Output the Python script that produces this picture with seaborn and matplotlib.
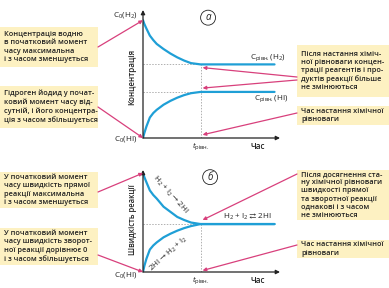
import matplotlib
matplotlib.use("Agg")
import matplotlib.pyplot as plt
import seaborn as sns
import pandas as pd
from matplotlib.patches import Rectangle

# ---------------- data ----------------
t = [0, 0.1, 0.25, 0.5, 0.75, 1.0, 1.5, 2.0, 2.5, 3.0, 3.5, 4.2, 9.6]
c_h2 = [9.2, 8.9, 8.55, 8.0, 7.65, 7.35, 6.95, 6.6, 6.3, 6.05, 5.85, 5.75, 5.75]
c_hi = [0, 0.4, 0.9, 1.6, 1.95, 2.2, 2.6, 2.9, 3.15, 3.35, 3.5, 3.6, 3.6]
v_forward = [9.7, 9.3, 8.8, 8.0, 7.55, 7.2, 6.4, 5.9, 5.4, 5.1, 4.85, 4.7, 4.7]
v_reverse = [0, 0.6, 1.3, 2.2, 2.6, 2.9, 3.4, 3.75, 4.05, 4.3, 4.5, 4.7, 4.7]
t_eq = 4.2

box_texts_left = [
    "Концентрація водню\nв початковий момент\nчасу максимальна\nі з часом зменшується",
    "Гідроген йодид у почат-\nковий момент часу від-\nсутній, і його концентра-\nція з часом збільшується",
    "У початковий момент\nчасу швидкість прямої\nреакції максимальна\nі з часом зменшується",
    "У початковий момент\nчасу швидкість зворот-\nної реакції дорівнює 0\nі з часом збільшується",
]
box_texts_right = [
    "Після настання хіміч-\nної рівноваги концен-\nтрації реагентів і про-\nдуктів реакції більше\nне змінюються",
    "Час настання хімічної\nрівноваги",
    "Після досягнення ста-\nну хімічної рівноваги\nшвидкості прямої\nта зворотної реакції\nоднакові і з часом\nне змінюються",
    "Час настання хімічної\nрівноваги",
]

# ---------------- style ----------------
sns.set_style("white")
plt.rcParams["font.family"] = ["Open Sans", "DejaVu Sans"]
plt.rcParams["mathtext.fontset"] = "custom"
plt.rcParams["mathtext.rm"] = "Open Sans"
plt.rcParams["mathtext.it"] = "Open Sans:italic"
plt.rcParams["mathtext.bf"] = "Open Sans:bold"
plt.rcParams["mathtext.fallback"] = "stixsans"

BLUE = "#1f9fd6"
PINK = "#d8407c"
YELLOW = "#fdf1c2"
DARK = "#222222"
GRID = "#b0b0b0"
FS = 5.3
WT = "semibold"

W, H = 389, 288
fig = plt.figure(figsize=(W / 100, H / 100), dpi=100)
fig.patch.set_facecolor("white")

# overlay in pixel coordinates (y downward) for the explanatory boxes
ov = fig.add_axes([0, 0, 1, 1], zorder=0)
ov.set_xlim(0, W)
ov.set_ylim(H, 0)
ov.axis("off")

def fpx(x, y):
    return (x, H - y)

def box(x0, y0, x1, y1, text):
    ov.add_patch(Rectangle((x0, y0), x1 - x0, y1 - y0, facecolor=YELLOW, edgecolor="none"))
    ov.text(x0 + 4, (y0 + y1) / 2, text, ha="left", va="center", fontsize=FS,
            color=DARK, linespacing=1.22, fontweight=WT)

left_boxes = [(0, 27, 98, 67), (0, 86, 98, 128), (0, 172, 98, 208), (0, 228, 98, 265)]
right_boxes = [(297, 45, 389, 97), (297, 106, 389, 125), (297, 170, 389, 220), (297, 240, 389, 258)]
for b, s in zip(left_boxes, box_texts_left):
    box(*b, s)
for b, s in zip(right_boxes, box_texts_right):
    box(*b, s)

# ---------------- panels ----------------
def make_axes(top_px, bottom_px):
    left = 143 / W
    width = 137 / W
    bottom = 1 - bottom_px / H
    height = (bottom_px - top_px) / H
    ax = fig.add_axes([left, bottom, width, height], zorder=2)
    ax.set_facecolor("none")
    for s in ax.spines.values():
        s.set_visible(False)
    return ax

ax1 = make_axes(10, 138)
ax2 = make_axes(170, 272)

df1 = pd.DataFrame({"t": t * 2, "c": c_h2 + c_hi,
                    "series": ["H2"] * len(t) + ["HI"] * len(t)})
df2 = pd.DataFrame({"t": t * 2, "v": v_forward + v_reverse,
                    "series": ["fwd"] * len(t) + ["rev"] * len(t)})

sns.lineplot(data=df1, x="t", y="c", units="series", estimator=None, color=BLUE,
             lw=1.6, ax=ax1, legend=False)
sns.lineplot(data=df2, x="t", y="v", units="series", estimator=None, color=BLUE,
             lw=1.6, ax=ax2, legend=False)

for ax in (ax1, ax2):
    ax.set_xlim(0, 10)
    ax.set_ylim(0, 10)
    ax.set_yticks([])
    ax.set_xticks([t_eq])
    ax.set_xticklabels([r"$t_{\mathrm{рівн.}}$"], fontsize=FS + 0.6, color=DARK)
    ax.tick_params(axis="x", length=0, pad=2)
    ax.set_xlabel("")
    ax.set_ylabel("")
    arrow = dict(arrowstyle="-|>", color=DARK, lw=0.9, shrinkA=0, shrinkB=0, mutation_scale=6)
    ax.annotate("", xy=(1, 0), xytext=(0, 0), xycoords="axes fraction", arrowprops=arrow)
    ax.annotate("", xy=(0, 1), xytext=(0, 0), xycoords="axes fraction", arrowprops=arrow)

dot = dict(color=GRID, lw=0.7, ls=(0, (1.5, 1.5)), zorder=0)
# top panel guides
ax1.plot([0, t_eq], [c_h2[-1]] * 2, **dot)
ax1.plot([0, t_eq], [c_hi[-1]] * 2, **dot)
ax1.plot([t_eq, t_eq], [0, c_h2[-1]], **dot)
# bottom panel guides
ax2.plot([0, t_eq], [v_forward[-1]] * 2, **dot)
ax2.plot([t_eq, t_eq], [0, v_forward[-1]], **dot)

for ax, lab, ly, fs in [(ax1, "Концентрація", 0.477, 5.8), (ax2, "Швидкість реакції", 0.51, 5.5)]:
    ax.text(-0.08, ly, lab, transform=ax.transAxes, rotation=90, ha="center", va="center",
            fontsize=fs, color=DARK, fontweight=WT)
    ax.text(0.84, -0.035, "Час", transform=ax.transAxes, ha="center", va="top",
            fontsize=FS + 0.6, color=DARK, fontweight=WT)

lab_kw = dict(textcoords="offset points", fontsize=FS + 0.6, color=DARK, annotation_clip=False)
ax1.annotate(r"$\mathrm{C}_0$(H$_2$)", xy=(0, c_h2[0]), xytext=(-4, 4), ha="right", va="center", **lab_kw)
ax1.annotate(r"$\mathrm{C}_0$(HI)", xy=(0, c_hi[0]), xytext=(-4, -1), ha="right", va="center", **lab_kw)
ax2.annotate(r"$\mathrm{C}_0$(HI)", xy=(0, v_reverse[0]), xytext=(-4, -2), ha="right", va="center", **lab_kw)

ax1.annotate(r"$\mathrm{C}_{\mathrm{рівн.}}$(H$_2$)", xy=(7.8, c_h2[-1]), xytext=(0, 5),
             ha="left", va="center", **lab_kw)
ax1.annotate(r"$\mathrm{C}_{\mathrm{рівн.}}$(HI)", xy=(8.1, c_hi[-1]), xytext=(0, -5),
             ha="left", va="center", **lab_kw)
ax2.annotate(r"H$_2$ + I$_2$$\rightleftarrows$2HI", xy=(5.85, v_forward[-1]), xytext=(0, 5.5),
             ha="left", va="center", **lab_kw)
ax2.text(1.95, 7.6, r"H$_2$ + I$_2$$\rightarrow$2HI", rotation=-48, rotation_mode="anchor",
         ha="center", va="center", fontsize=FS + 0.6, color=DARK)
ax2.text(1.85, 1.8, r"2HI$\rightarrow$H$_2$ + I$_2$", rotation=42, rotation_mode="anchor",
         ha="center", va="center", fontsize=FS + 0.6, color=DARK)

# circled panel letters
for ax, letter, pos in [(ax1, "а", (4.75, 9.4)), (ax2, "б", (4.9, 9.3))]:
    ax.text(*pos, letter, fontsize=FS + 1.8, style="italic", ha="center", va="center", color=DARK,
            bbox=dict(boxstyle="circle,pad=0.2", fc="white", ec=DARK, lw=0.6))

# pink pointer arrows
pa = dict(arrowstyle="-|>", color=PINK, lw=0.9, shrinkA=0, shrinkB=0, mutation_scale=5)
def pointer(ax, xy, src):
    ax.annotate("", xy=xy, xycoords="data", xytext=fpx(*src), textcoords="figure pixels",
                arrowprops=pa, annotation_clip=False)

pointer(ax1, (0, c_h2[0]), (98, 47))
pointer(ax1, (0, c_hi[0]), (98, 107))
pointer(ax1, (t_eq + 0.15, c_h2[-1] - 0.25), (297, 77))
pointer(ax1, (t_eq + 0.15, c_hi[-1] + 0.3), (297, 80))
pointer(ax1, (t_eq + 0.15, 0.25), (297, 113))

pointer(ax2, (0, v_forward[0]), (98, 192))
pointer(ax2, (0, v_reverse[0]), (98, 255))
pointer(ax2, (t_eq + 0.15, v_forward[-1] + 0.4), (297, 174))
pointer(ax2, (t_eq + 0.15, 0.15), (297, 245))

fig.savefig("out.png", dpi=100, facecolor="white")
